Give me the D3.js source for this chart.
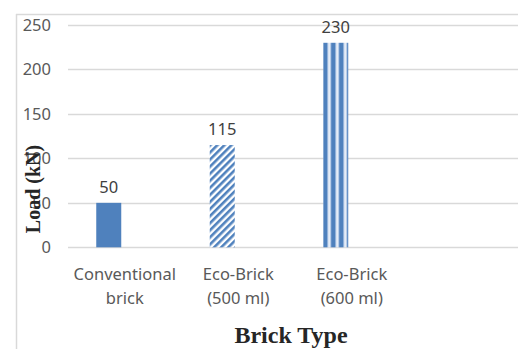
<!DOCTYPE html>
<html>
<head>
<meta charset="utf-8">
<script src="https://cdn.jsdelivr.net/npm/d3@7"></script>
<style>
  html, body { margin: 0; padding: 0; background: #fff; }
  svg { display: block; }
</style>
</head>
<body>
<script>
// Chart data
const categories = ["Conventional brick", "Eco-Brick (500 ml)", "Eco-Brick (600 ml)", ""];
const categoryLines = [["Conventional", "brick"], ["Eco-Brick", "(500 ml)"], ["Eco-Brick", "(600 ml)"], []];
const loads = [50, 115, 230];
const fills = ["solid", "diagonal", "vertical"];
const yTicks = [0, 50, 100, 150, 200, 250];
const yTitle = "Load  (kN)";
const xTitle = "Brick Type";

const W = 518, H = 349;
const blue = "#4f81bd";
const grid = "#d9d9d9";
const tickFont = "'Noto Sans', 'Open Sans', sans-serif";
const titleFont = "'Liberation Serif', 'Times New Roman', serif";

const svg = d3.select("body").append("svg")
  .attr("width", W).attr("height", H);

// Scales
const x = d3.scaleBand().domain(categories).range([68, 522]).paddingInner(0).paddingOuter(0);
const y = d3.scaleLinear().domain([0, 250]).range([247.3, 25]);

const barW = 25;
const barX = i => x(categories[i]) + x.bandwidth() / 2 - 16 - barW / 2;

// Fill patterns
const defs = svg.append("defs");
const diag = defs.append("pattern")
  .attr("id", "diag").attr("patternUnits", "userSpaceOnUse")
  .attr("width", 5).attr("height", 5)
  .attr("patternTransform", "rotate(45)");
diag.append("rect").attr("width", 5).attr("height", 5).attr("fill", "#fff");
diag.append("rect").attr("width", 2.6).attr("height", 5).attr("fill", blue);

const vert = defs.append("pattern")
  .attr("id", "vert").attr("patternUnits", "userSpaceOnUse")
  .attr("x", barX(2)).attr("width", 8).attr("height", 8);
vert.append("rect").attr("width", 8).attr("height", 8).attr("fill", "#e6edf7");
vert.append("rect").attr("x", 4).attr("width", 1).attr("height", 8).attr("fill", "#a9c2e3");
vert.append("rect").attr("x", 7).attr("width", 1).attr("height", 8).attr("fill", "#a9c2e3");
vert.append("rect").attr("width", 4).attr("height", 8).attr("fill", blue);

const fillFor = { solid: blue, diagonal: "url(#diag)", vertical: "url(#vert)" };

// Outer frame
svg.append("line").attr("x1", 16.5).attr("x2", 16.5).attr("y1", 14).attr("y2", H)
  .attr("stroke", grid).attr("stroke-width", 1.5);
svg.append("line").attr("x1", 16).attr("x2", W).attr("y1", 14.5).attr("y2", 14.5)
  .attr("stroke", grid).attr("stroke-width", 1.5);

// Gridlines
svg.append("g").selectAll("line").data(yTicks).join("line")
  .attr("x1", 68).attr("x2", W)
  .attr("y1", d => Math.round(y(d)) + 0.5).attr("y2", d => Math.round(y(d)) + 0.5)
  .attr("stroke", grid).attr("stroke-width", 1.3);

// Y axis tick labels
const yAxis = d3.axisLeft(y).tickValues(yTicks).tickSize(0).tickPadding(0);
const gy = svg.append("g").attr("transform", "translate(51,0)").call(yAxis);
gy.select(".domain").remove();
gy.selectAll("text")
  .attr("font-family", tickFont).attr("font-size", 16.5).attr("fill", "#595959");

// Bars
svg.append("g").selectAll("rect").data(loads).join("rect")
  .attr("x", (d, i) => barX(i))
  .attr("y", d => y(d))
  .attr("width", barW)
  .attr("height", d => y(0) - y(d))
  .attr("fill", (d, i) => fillFor[fills[i]]);

// Value labels
svg.append("g").selectAll("text").data(loads).join("text")
  .attr("x", (d, i) => barX(i) + barW / 2)
  .attr("y", d => y(d) - 10)
  .attr("text-anchor", "middle")
  .attr("font-family", tickFont).attr("font-size", 16.5).attr("fill", "#404040")
  .text(d => d);

// Category labels
const catG = svg.append("g").selectAll("text").data(categories).join("text")
  .attr("text-anchor", "middle")
  .attr("font-family", tickFont).attr("font-size", 16.5).attr("fill", "#595959");
catG.each(function(d, i) {
  const cx = x(d) + x.bandwidth() / 2;
  d3.select(this).selectAll("tspan").data(categoryLines[i]).join("tspan")
    .attr("x", cx)
    .attr("y", (t, j) => 280 + j * 24)
    .text(t => t);
});

// Axis titles
svg.append("text")
  .attr("transform", "translate(40,189) rotate(-90)")
  .attr("text-anchor", "middle")
  .attr("font-family", titleFont).attr("font-weight", "bold")
  .attr("font-size", 20).attr("fill", "#262626")
  .text(yTitle);

svg.append("text")
  .attr("x", 291).attr("y", 343)
  .attr("text-anchor", "middle")
  .attr("font-family", titleFont).attr("font-weight", "bold")
  .attr("font-size", 24).attr("fill", "#262626")
  .text(xTitle);
</script>
</body>
</html>
